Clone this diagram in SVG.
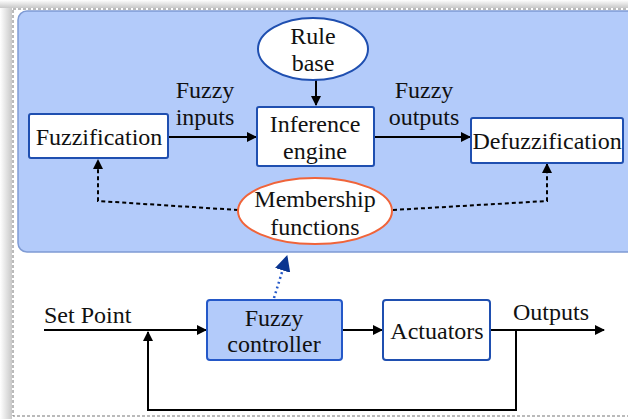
<svg xmlns="http://www.w3.org/2000/svg" width="628" height="419" viewBox="0 0 628 419">
<defs>
<style>
text{font-family:'Liberation Serif','DejaVu Serif',serif;font-size:24px;fill:#111;text-anchor:middle}
.box{fill:#fff;stroke:#1f4fb0;stroke-width:2}
.ln{fill:none;stroke:#000;stroke-width:2}
.dash{fill:none;stroke:#000;stroke-width:2;stroke-dasharray:4,3}
</style>
<marker id="ah" markerWidth="10" markerHeight="10" refX="9" refY="5" orient="auto" markerUnits="userSpaceOnUse">
<path d="M0,0 L10,5 L0,10 Z" fill="#000"/>
</marker>
<marker id="ahb" markerWidth="16" markerHeight="16" refX="15" refY="8" orient="auto" markerUnits="userSpaceOnUse">
<path d="M0,0 L16,8 L0,16 Z" fill="#0a3590"/>
</marker>
<linearGradient id="sh" x1="0" y1="0" x2="1" y2="0">
<stop offset="0" stop-color="#fff"/><stop offset="1" stop-color="#c8c8c8"/>
</linearGradient>
<linearGradient id="sht" x1="0" y1="0" x2="0" y2="1">
<stop offset="0" stop-color="#fff"/><stop offset="1" stop-color="#c8c8c8"/>
</linearGradient>
</defs>
<rect x="0" y="0" width="628" height="419" fill="#fff"/>
<rect x="0" y="0" width="12" height="419" fill="url(#sh)"/>
<rect x="0" y="0" width="628" height="8" fill="url(#sht)"/>
<rect x="13" y="9" width="620" height="407" fill="#fff" stroke="#777" stroke-width="1" stroke-dasharray="3,2"/>
<rect x="18" y="11" width="620" height="241" rx="9" fill="#b3cbfa" stroke="#7f9bd4" stroke-width="1.5"/>

<g id="connectors">
<line class="ln" x1="316" y1="80" x2="316" y2="105" marker-end="url(#ah)"/>
<line class="ln" x1="168" y1="137" x2="256" y2="137" marker-end="url(#ah)"/>
<line class="ln" x1="374" y1="137" x2="470" y2="137" marker-end="url(#ah)"/>
<polyline class="dash" points="238,210 98,201 98,160" marker-end="url(#ah)"/>
<polyline class="dash" points="393,210 547,201 547,164" marker-end="url(#ah)"/>
<line x1="274" y1="298" x2="287" y2="256" stroke="#2458c8" stroke-width="2.5" stroke-dasharray="2,3" marker-end="url(#ahb)"/>
<line class="ln" x1="44" y1="330" x2="206" y2="330" marker-end="url(#ah)"/>
<line class="ln" x1="342" y1="330" x2="382" y2="330" marker-end="url(#ah)"/>
<line class="ln" x1="490" y1="330" x2="604" y2="330" marker-end="url(#ah)"/>
<polyline class="ln" points="516,330 516,410 148,410 148,332" marker-end="url(#ah)"/>
</g>

<g id="rule-base">
<ellipse cx="313" cy="49" rx="55" ry="31" fill="#fff" stroke="#1f4fb0" stroke-width="2"/>
<text x="313" y="44">Rule</text>
<text x="313" y="71">base</text>
</g>
<g id="fuzzification">
<rect class="box" x="29" y="114" width="139" height="44" rx="2"/>
<text x="99" y="145">Fuzzification</text>
</g>
<g id="inference-engine">
<rect class="box" x="257" y="107" width="117" height="59" rx="2"/>
<text x="315" y="132">Inference</text>
<text x="315" y="159">engine</text>
</g>
<g id="defuzzification">
<rect class="box" x="471" y="118" width="152" height="45" rx="2"/>
<text x="547" y="149">Defuzzification</text>
</g>
<g id="membership-functions">
<ellipse cx="315" cy="211" rx="77" ry="33" fill="#fff" stroke="#f0643a" stroke-width="2"/>
<text x="315" y="207">Membership</text>
<text x="315" y="235">functions</text>
</g>
<g id="labels">
<text x="205" y="98">Fuzzy</text>
<text x="205" y="125">inputs</text>
<text x="424" y="98">Fuzzy</text>
<text x="424" y="125">outputs</text>
<text x="44" y="323" style="text-anchor:start">Set Point</text>
<text x="551" y="320">Outputs</text>
</g>
<g id="fuzzy-controller">
<rect x="207" y="300" width="135" height="60" rx="3" fill="#b3cbfa" stroke="#2458c8" stroke-width="2"/>
<text x="274" y="326">Fuzzy</text>
<text x="274" y="352">controller</text>
</g>
<g id="actuators">
<rect class="box" x="383" y="300" width="107" height="60" rx="3"/>
<text x="437" y="339">Actuators</text>
</g>
</svg>
